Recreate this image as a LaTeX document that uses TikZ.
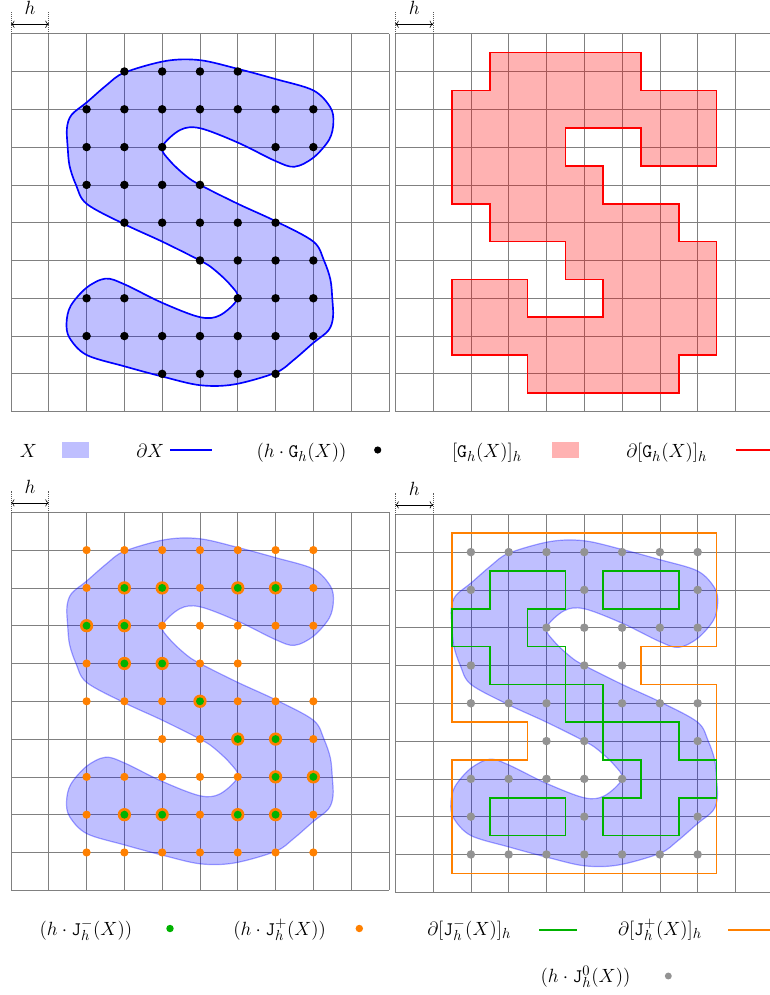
\documentclass[tikz,border=0pt]{standalone}
\usetikzlibrary{arrows.meta}
\definecolor{mygreen}{RGB}{0,178,0}
\definecolor{myorange}{RGB}{255,128,0}
\tikzset{
  gridline/.style={draw=gray, line width=0.55pt},
  sfill/.style={fill=blue, fill opacity=0.25},
  hdim/.style={densely dotted, line width=0.45pt, gray!70!black},
  harrow/.style={<->, line width=0.45pt},
  bnd/.style={line width=1.25pt},
  lbl/.style={anchor=base, inner sep=0pt},
}
\newcommand{\sshape}{plot[smooth cycle, tension=0.55] coordinates {(1.50,3.00) (1.48,2.50) (1.60,2.15) (2.00,1.82) (2.53,1.36) (3.00,1.03) (4.10,0.72) (5.00,0.70) (6.00,0.93) (7.00,1.20) (8.00,1.50) (8.45,1.95) (8.53,2.35) (8.42,2.80) (8.00,3.28) (7.50,3.52) (7.00,3.37) (6.00,2.88) (5.00,2.50) (4.47,2.55) (4.00,3.00) (4.21,3.37) (4.65,3.78) (5.00,4.00) (6.00,4.50) (7.00,4.96) (8.00,5.50) (8.28,6.00) (8.45,6.50) (8.50,7.00) (8.52,7.50) (8.40,7.85) (8.00,8.18) (7.47,8.64) (7.00,8.97) (5.90,9.28) (5.00,9.30) (4.00,9.07) (3.00,8.80) (2.00,8.50) (1.55,8.05) (1.47,7.65) (1.58,7.20) (2.00,6.72) (2.50,6.48) (3.00,6.63) (4.00,7.12) (5.00,7.50) (5.53,7.45) (6.00,7.00) (5.79,6.63) (5.35,6.22) (5.00,6.00) (4.00,5.50) (3.00,5.04) (2.00,4.50) (1.72,4.00) (1.55,3.50)}}
\newcommand{\panelgrid}{%
  \foreach \i in {0,...,10} {\draw[gridline] (\i,0) -- (\i,10); \draw[gridline] (0,\i) -- (10,\i);}
  \draw[hdim] (0,0) -- (0,-0.6) (1,0) -- (1,-0.6);
  \draw[harrow] (0,-0.25) -- (1,-0.25);
  \node[lbl] at (0.5,-0.5) {$h$};
}
\begin{document}
\begin{tikzpicture}[x=0.0264583cm, y=-0.0264583cm, every node/.style={font=\fontsize{15.5}{18}\selectfont}]
\useasboundingbox (0,0) rectangle (769,995);

% ---------- top left ----------
\begin{scope}[shift={(11,33.7)}, x=1cm, y=-1cm]
  \panelgrid
  \fill[sfill] \sshape;
  \draw[blue, bnd] \sshape;
  \foreach \y/\xs in {1/{3,4,5,6}, 2/{2,3,4,5,6,7,8}, 3/{2,3,4,7,8}, 4/{2,3,4,5}, 5/{3,4,5,6,7}, 6/{5,6,7,8}, 7/{2,3,6,7,8}, 8/{2,3,4,5,6,7,8}, 9/{4,5,6,7}}
    \foreach \x in \xs {\fill (\x,\y) circle[radius=3.2pt];}
\end{scope}

% ---------- top right ----------
\begin{scope}[shift={(395.3,33.7)}, x=1cm, y=-1cm]
  \panelgrid
  \draw[red, bnd, fill=red, fill opacity=0.3] (2.5,0.5) -- (6.5,0.5) -- (6.5,1.5) -- (8.5,1.5) -- (8.5,3.5) -- (6.5,3.5) -- (6.5,2.5) -- (4.5,2.5) -- (4.5,3.5) -- (5.5,3.5) -- (5.5,4.5) -- (7.5,4.5) -- (7.5,5.5) -- (8.5,5.5) -- (8.5,8.5) -- (7.5,8.5) -- (7.5,9.5) -- (3.5,9.5) -- (3.5,8.5) -- (1.5,8.5) -- (1.5,6.5) -- (3.5,6.5) -- (3.5,7.5) -- (5.5,7.5) -- (5.5,6.5) -- (4.5,6.5) -- (4.5,5.5) -- (2.5,5.5) -- (2.5,4.5) -- (1.5,4.5) -- (1.5,1.5) -- (2.5,1.5) -- cycle;
\end{scope}

% ---------- bottom left ----------
\begin{scope}[shift={(11,512.3)}, x=1cm, y=-1cm]
  \panelgrid
  \fill[sfill] \sshape;
  \draw[blue, draw opacity=0.35, line width=0.9pt] \sshape;
  \foreach \y/\xs in {1/{2,3,4,5,6,7,8}, 2/{2,5,8}, 3/{4,5,6,7,8}, 4/{2,5,6}, 5/{2,3,4,6,7,8}, 6/{4,5,8}, 7/{2,3,4,5,6}, 8/{2,5,8}, 9/{2,3,4,5,6,7,8}}
    \foreach \x in \xs {\fill[myorange] (\x,\y) circle[radius=3.1pt];}
  \foreach \y/\xs in {2/{3,4,6,7}, 3/{2,3}, 4/{3,4}, 5/{5}, 6/{6,7}, 7/{7,8}, 8/{3,4,6,7}}
    \foreach \x in \xs {\fill[myorange] (\x,\y) circle[radius=5pt]; \fill[mygreen] (\x,\y) circle[radius=3pt];}
\end{scope}

% ---------- bottom right ----------
\begin{scope}[shift={(395.3,514.3)}, x=1cm, y=-1cm]
  \panelgrid
  \fill[sfill] \sshape;
  \draw[blue, draw opacity=0.35, line width=0.9pt] \sshape;
  \foreach \y/\xs in {1/{2,3,4,5,6,7,8}, 2/{2,5,8}, 3/{4,5,6,7,8}, 4/{2,5,6}, 5/{2,3,4,6,7,8}, 6/{4,5,8}, 7/{2,3,4,5,6}, 8/{2,5,8}, 9/{2,3,4,5,6,7,8}}
    \foreach \x in \xs {\fill[gray!85] (\x,\y) circle[radius=3.2pt];}
  \draw[myorange, bnd] (1.5,0.5) -- (8.5,0.5) -- (8.5,3.5) -- (6.5,3.5) -- (6.5,4.5) -- (8.5,4.5) -- (8.5,9.5) -- (1.5,9.5) -- (1.5,6.5) -- (3.5,6.5) -- (3.5,5.5) -- (1.5,5.5) -- cycle;
  \draw[mygreen, bnd] (2.5,1.5) -- (4.5,1.5) -- (4.5,2.5) -- (3.5,2.5) -- (3.5,3.5) -- (4.5,3.5) -- (4.5,4.5) -- (5.5,4.5) -- (5.5,5.5) -- (7.5,5.5) -- (7.5,6.5) -- (8.5,6.5) -- (8.5,7.5) -- (7.5,7.5) -- (7.5,8.5) -- (5.5,8.5) -- (5.5,7.5) -- (6.5,7.5) -- (6.5,6.5) -- (5.5,6.5) -- (5.5,5.5) -- (4.5,5.5) -- (4.5,4.5) -- (2.5,4.5) -- (2.5,3.5) -- (1.5,3.5) -- (1.5,2.5) -- (2.5,2.5) -- cycle;
  \draw[mygreen, bnd] (5.5,1.5) rectangle (7.5,2.5);
  \draw[mygreen, bnd] (2.5,7.5) rectangle (4.5,8.5);
\end{scope}

% ---------- top legend ----------
\node[lbl] (lX) at (28.3,457.5) {$X$};
\fill[blue, opacity=0.25] (62.3,442.3) rectangle (89,457.7);
\node[lbl] (ldX) at (150.3,457.5) {$\partial X$};
\draw[blue, bnd] (170,450) -- (211.7,450);
\node[lbl] (lG) at (301.5,457.5) {$(h\cdot\mathtt{G}_h(X))$};
\fill (377.7,450) circle[radius=2.7pt];
\node[lbl] (lGh) at (487,457.5) {$[\mathtt{G}_h(X)]_h$};
\fill[red, opacity=0.3] (552.3,442.3) rectangle (579,457.7);
\node[lbl] (ldGh) at (666.7,457.5) {$\partial[\mathtt{G}_h(X)]_h$};
\draw[red, bnd] (735.7,450) -- (780,450);

% ---------- bottom legend ----------
\node[lbl] (lJm) at (85.8,935) {$(h\cdot\mathtt{J}_h^-(X))$};
\fill[mygreen] (170,928.5) circle[radius=2.8pt];
\node[lbl] (lJp) at (279.7,935) {$(h\cdot\mathtt{J}_h^+(X))$};
\fill[myorange] (359.3,928.5) circle[radius=2.8pt];
\node[lbl] (ldJm) at (469.2,935) {$\partial[\mathtt{J}_h^-(X)]_h$};
\draw[mygreen, bnd] (539.3,930) -- (577.3,930);
\node[lbl] (ldJp) at (660,935) {$\partial[\mathtt{J}_h^+(X)]_h$};
\draw[myorange, bnd] (728.3,930) -- (780,930);
\node[lbl] (lJ0) at (585.5,982) {$(h\cdot\mathtt{J}_h^0(X))$};
\fill[gray!85] (668.3,976) circle[radius=2.6pt];
\end{tikzpicture}
\end{document}
